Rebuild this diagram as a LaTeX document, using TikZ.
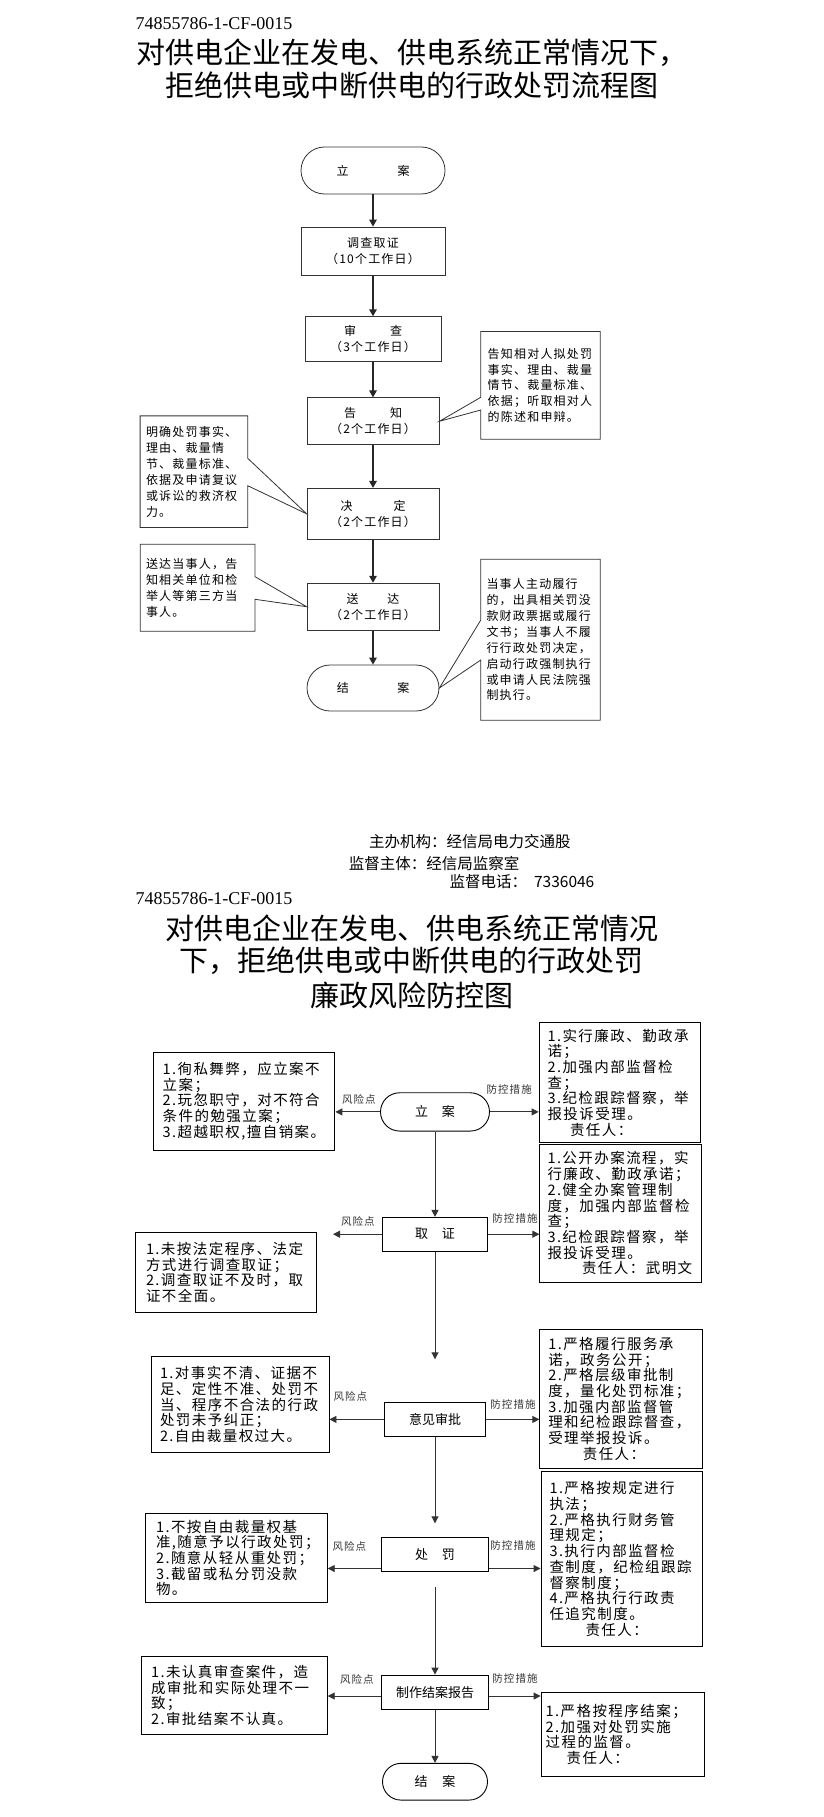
\documentclass[tikz,border=0pt]{standalone}
\usepackage{fontspec}
\setmainfont{Noto Sans CJK SC}
\newfontfamily\spacedcjk[LetterSpace=10]{Noto Sans CJK SC}
\newfontfamily\codefont{Liberation Serif}
\usetikzlibrary{arrows.meta,shapes.misc}

\newcommand{\notesize}{\spacedcjk\fontsize{12}{15.9}\selectfont}
\newcommand{\memosize}{\spacedcjk\fontsize{14.5}{15.7}\selectfont}
\newcommand{\tagsize}{\spacedcjk\fontsize{10.5}{12}\selectfont}
\newcommand{\headsize}{\fontsize{29}{33}\selectfont}
\newcommand{\infosize}{\fontsize{15.5}{18}\selectfont}

\begin{document}
\begin{tikzpicture}[x=1pt, y=-1pt,
	proc/.style={draw=black!80, line width=0.8pt, minimum width=132pt, minimum height=47pt, inner sep=0pt, align=center, font=\notesize},
	term/.style={proc, rounded rectangle},
	flow/.style={-{Triangle[length=7pt,width=7.5pt]}, line width=1.4pt, black!85},
	callbox/.style={inner sep=0pt, align=left, font=\notesize},
	callline/.style={draw=black!80, line width=0.8pt},
	act/.style={draw, line width=0.9pt, inner sep=0pt, align=center, font=\fontsize{13}{15}\selectfont},
	memo/.style={draw, line width=0.9pt, inner sep=0pt, align=left, font=\memosize},
	link/.style={-{Triangle[length=7pt,width=7pt]}, line width=0.9pt, black!80},
	tag/.style={font=\tagsize, text=black!80, inner sep=0pt},
	head/.style={font=\headsize, inner sep=0pt},
	info/.style={font=\infosize, inner sep=0pt},
	code/.style={font=\codefont\fontsize{18}{20}\selectfont, inner sep=0pt}]
	\path[fill=white] (0,0) rectangle (823,1817);
	\useasboundingbox (0,0) rectangle (823,1817);

	% first sheet
	\node[code, anchor=base west] (codeA) at (135.3,29.7) {74855786-1-CF-0015};
	\node[head, anchor=base] (headA1) at (411.5,64) {对供电企业在发电、供电系统正常情况下，};
	\node[head, anchor=base] (headA2) at (411.5,97) {拒绝供电或中断供电的行政处罚流程图};

	\node[term, minimum width=144pt, minimum height=47pt] (la) at (373,170.5) {立\hspace{49pt}案};
	\node[proc, minimum width=144pt, minimum height=48pt] (dc) at (373,251) {调查取证\\（10个工作日）};
	\node[proc, minimum width=136pt, minimum height=45pt] (sc) at (373,339.2) {审\hspace{34pt}查\\（3个工作日）};
	\node[proc] (gz) at (373,421.3) {告\hspace{34pt}知\\（2个工作日）};
	\node[proc, minimum height=51pt] (jd) at (373,513.8) {决\hspace{41pt}定\\（2个工作日）};
	\node[proc] (sd) at (373,606.7) {送\hspace{29pt}达\\（2个工作日）};
	\node[term, minimum height=46pt] (ja) at (373,688) {结\hspace{48.5pt}案};

	\draw[flow] (la.south) -- (dc.north);
	\draw[flow] (dc.south) -- (sc.north);
	\draw[flow] (sc.south) -- (gz.north);
	\draw[flow] (gz.south) -- (jd.north);
	\draw[flow] (jd.south) -- (sd.north);
	\draw[flow] (sd.south) -- (ja.north);

	\node[callbox, minimum width=119pt, minimum height=107.3pt, text width=105.6pt] (c1) at (540.5,385.4)
		{告知相对人拟处罚\\事实、理由、裁量\\情节、裁量标准、\\依据；听取相对人\\的陈述和申辩。};
	\node[callbox, minimum width=107.2pt, minimum height=111.3pt, text width=95.8pt] (c2) at (193.9,471.7)
		{明确处罚事实、\\理由、裁量情\\节、裁量标准、\\依据及申请复议\\或诉讼的救济权\\力。};
	\node[callbox, minimum width=114.5pt, minimum height=86.7pt, text width=103.1pt] (c3) at (197.6,587.7)
		{送达当事人，告\\知相关单位和检\\举人等第三方当\\事人。};
	\node[callbox, minimum width=119pt, minimum height=160.7pt, text width=108pt] (c4) at (540.5,639.7)
		{当事人主动履行\\的，出具相关罚没\\款财政票据或履行\\文书；当事人不履\\行行政处罚决定，\\启动行政强制执行\\或申请人民法院强\\制执行。};

	\coordinate (p1a) at (481,397.3);
	\coordinate (p1b) at (481,410);
	\coordinate (p2a) at (247.5,458.3);
	\coordinate (p2b) at (247.5,485.7);
	\coordinate (p3a) at (254.8,576.7);
	\coordinate (p3b) at (254.8,599.3);
	\coordinate (p4a) at (481,620);
	\coordinate (p4b) at (481,660);
	\draw[callline] (c1.north west) -- (c1.north east) -- (c1.south east) -- (c1.south west)
		-- (c1.west |- p1b) -- (gz.east) -- (c1.west |- p1a) -- cycle;
	\draw[callline] (c2.north west) -- (c2.north east) -- (c2.east |- p2a) -- (jd.west)
		-- (c2.east |- p2b) -- (c2.south east) -- (c2.south west) -- cycle;
	\draw[callline] (c3.north west) -- (c3.north east) -- (c3.east |- p3a) -- (sd.west)
		-- (c3.east |- p3b) -- (c3.south east) -- (c3.south west) -- cycle;
	\draw[callline] (c4.north west) -- (c4.north east) -- (c4.south east) -- (c4.south west)
		-- (c4.west |- p4b) -- (ja.east) -- (c4.west |- p4a) -- cycle;

	\node[info, anchor=base west] (orgA) at (369,847.5) {主办机构：经信局电力交通股};
	\node[info, anchor=base west] (orgB) at (348.7,869.2) {监督主体：经信局监察室};
	\node[info, anchor=base west] (orgC) at (449.4,887.6) {监督电话：\hspace{7pt}7336046};

	% second sheet
	\node[code, anchor=base west] (codeB) at (135.3,904.3) {74855786-1-CF-0015};
	\node[head, anchor=base] (headB1) at (411.5,939.3) {对供电企业在发电、供电系统正常情况};
	\node[head, anchor=base] (headB2) at (411.5,971) {下，拒绝供电或中断供电的行政处罚};
	\node[head, anchor=base] (headB3) at (411.5,1006) {廉政风险防控图};

	\node[act, rounded rectangle, minimum width=109pt, minimum height=38.3pt] (lb) at (435,1111.9) {立\hspace{14pt}案};
	\node[act, minimum width=105pt, minimum height=33.7pt] (qz) at (435,1234.2) {取\hspace{14pt}证};
	\node[act, minimum width=101pt, minimum height=33.3pt] (yj) at (435,1419.4) {意见审批};
	\node[act, minimum width=106.5pt, minimum height=33.3pt] (cf) at (435,1554.4) {处\hspace{14pt}罚};
	\node[act, minimum width=107.3pt, minimum height=34.3pt] (zz) at (435,1692.2) {制作结案报告};
	\node[act, rounded rectangle, minimum width=105pt, minimum height=36.7pt] (jb) at (435,1781.7) {结\hspace{15pt}案};

	\node[memo, minimum width=181.2pt, minimum height=97.7pt, text width=163.4pt] (l1) at (244.3,1101.2)
		{1.徇私舞弊，应立案不\\立案；\\2.玩忽职守，对不符合\\条件的勉强立案；\\3.超越职权,擅自销案。};
	\node[memo, minimum width=161.7pt, minimum height=120pt, text width=144.7pt] (r1) at (619.9,1082.7)
		{1.实行廉政、勤政承\\诺；\\2.加强内部监督检\\查；\\3.纪检跟踪督察，举\\报投诉受理。\\\hspace*{22.5pt}责任人：};
	\node[memo, minimum width=162pt, minimum height=138.7pt, text width=146.6pt] (r2) at (620.8,1213.4)
		{1.公开办案流程，实\\行廉政、勤政承诺；\\2.健全办案管理制\\度，加强内部监督检\\查；\\3.纪检跟踪督察，举\\报投诉受理。\\\hspace*{34.5pt}责任人：武明文};
	\node[memo, minimum width=181.2pt, minimum height=79.3pt, text width=160.6pt] (l2) at (226.3,1272.4)
		{1.未按法定程序、法定\\方式进行调查取证；\\2.调查取证不及时，取\\证不全面。};
	\node[memo, minimum width=178pt, minimum height=96pt, text width=160pt] (l3) at (240,1404.7)
		{1.对事实不清、证据不\\足、定性不准、处罚不\\当、程序不合法的行政\\处罚未予纠正；\\2.自由裁量权过大。};
	\node[memo, minimum width=162.8pt, minimum height=139pt, text width=145.8pt] (r3) at (621.2,1398.8)
		{1.严格履行服务承\\诺，政务公开；\\2.严格层级审批制\\度，量化处罚标准；\\3.加强内部监督管\\理和纪检跟踪督查，\\受理举报投诉。\\\hspace*{34.5pt}责任人：};
	\node[memo, minimum width=161.6pt, minimum height=175.7pt, text width=144.6pt] (r4) at (621.8,1558.9)
		{1.严格按规定进行\\执法；\\2.严格执行财务管\\理规定；\\3.执行内部监督检\\查制度，纪检组跟踪\\督察制度；\\4.严格执行行政责\\任追究制度。\\\hspace*{36pt}责任人：};
	\node[memo, minimum width=181.9pt, minimum height=89.4pt, text width=160.5pt] (l4) at (236.3,1558)
		{1.不按自由裁量权基\\准,随意予以行政处罚；\\2.随意从轻从重处罚；\\3.截留或私分罚没款\\物。};
	\node[memo, minimum width=185.7pt, minimum height=77.6pt, text width=166.7pt] (l5) at (234.4,1695.5)
		{1.未认真审查案件，造\\成审批和实际处理不一\\致；\\2.审批结案不认真。};
	\node[memo, minimum width=163.5pt, minimum height=84.7pt, text width=154.3pt] (r5) at (622.8,1734.4)
		{1.严格按程序结案；\\2.加强对处罚实施\\过程的监督。\\\hspace*{21pt}责任人：};

	\coordinate (e2) at (435,1359.3);
	\coordinate (e3) at (435,1523.3);
	\coordinate (s4) at (435,1586.7);
	\coordinate (q2) at (333,1234.2);
	\coordinate (cfa) at (435,1568.5);
	\coordinate (zza) at (435,1696);

	\draw[link] (lb.south) -- (qz.north);
	\draw[link] (qz.south) -- (e2);
	\draw[link] (yj.south) -- (e3);
	\draw[link] (s4) -- (zz.north);
	\draw[link] (zz.south) -- (jb.north);

	\draw[link] (lb.west) -- (l1.east |- lb.west);
	\draw[link] (lb.east) -- (r1.west |- lb.east);
	\draw[link] (qz.west) -- (q2);
	\draw[link] (qz.east) -- (r2.west |- qz.east);
	\draw[link] (yj.west) -- (l3.east |- yj.west);
	\draw[link] (yj.east) -- (r3.west |- yj.east);
	\draw[link] (cf.west |- cfa) -- (l4.east |- cfa);
	\draw[link] (cf.east |- cfa) -- (r4.west |- cfa);
	\draw[link] (zz.west |- zza) -- (l5.east |- zza);
	\draw[link] (zz.east |- zza) -- (r5.west |- zza);

	\node[tag] (k1) at (358.8,1099.3) {风险点};
	\node[tag] (m1) at (509.2,1089.3) {防控措施};
	\node[tag] (k2) at (357.8,1221.7) {风险点};
	\node[tag] (m2) at (515,1218.3) {防控措施};
	\node[tag] (k3) at (350.3,1396) {风险点};
	\node[tag] (m3) at (513,1404.3) {防控措施};
	\node[tag] (k4) at (349.3,1546) {风险点};
	\node[tag] (m4) at (513,1545) {防控措施};
	\node[tag] (k5) at (356.8,1679.3) {风险点};
	\node[tag] (m5) at (515,1678.3) {防控措施};
\end{tikzpicture}
\end{document}
